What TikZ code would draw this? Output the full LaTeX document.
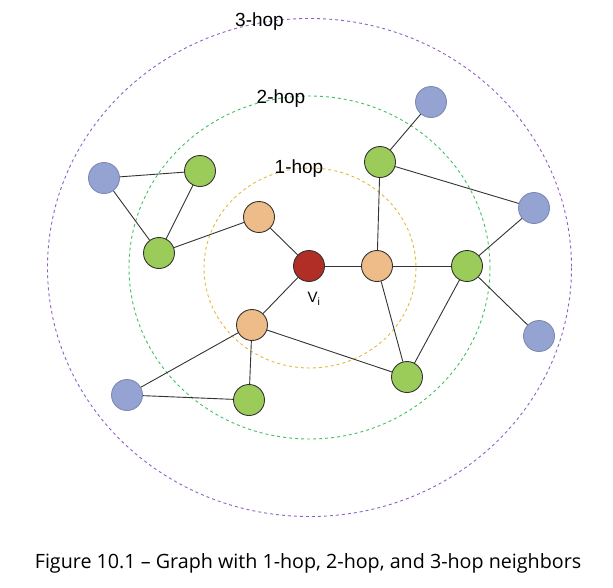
\documentclass[tikz,border=0pt]{standalone}
\usepackage{fontspec}
\setmainfont{Liberation Sans}
\newfontfamily\capfont{Open Sans}
\definecolor{cred}{HTML}{B02E26}
\definecolor{corange}{HTML}{EEBC88}
\definecolor{cgreen}{HTML}{9BCC5A}
\definecolor{cblue}{HTML}{94A3D2}
\definecolor{rpurple}{HTML}{8E62C4}
\definecolor{rgreen}{HTML}{40C060}
\definecolor{ryellow}{HTML}{E2BA3A}
\definecolor{edgec}{HTML}{333333}
\tikzset{
  vtx/.style={circle, draw=edgec, line width=0.9pt, minimum size=31pt, inner sep=0pt},
  redv/.style={vtx, fill=cred},
  orav/.style={vtx, fill=corange},
  grnv/.style={vtx, fill=cgreen},
  bluv/.style={vtx, draw=cblue!85!black, fill=cblue},
  ring/.style={line width=0.9pt, dash pattern=on 3pt off 3pt},
  edge/.style={draw=edgec, line width=0.9pt},
  hoplabel/.style={font=\fontsize{19}{22}\selectfont, inner sep=0pt}
}
\begin{document}
\begin{tikzpicture}[x=1pt,y=-1pt]
\useasboundingbox (0,0) rectangle (613,587);
% rings
\draw[ring, draw=rpurple] (309.5,267.5) ellipse [x radius=262, y radius=249];
\draw[ring, draw=rgreen] (309.5,267.5) ellipse [x radius=180.5, y radius=171.5];
\draw[ring, draw=ryellow] (310,268) ellipse [x radius=106, y radius=100];
% labels
\node[hoplabel] (l3) at (259.5,22) {3-hop};
\node[hoplabel] (l2) at (281,99) {2-hop};
\node[hoplabel] (l1) at (299,169) {1-hop};
% nodes
\node[redv] (vi) at (309,266) {};
\node[orav] (o1) at (259,217) {};
\node[orav] (o2) at (377,266) {};
\node[orav] (o3) at (252,325) {};
\node[grnv] (g1) at (200,171) {};
\node[grnv] (g2) at (159,253) {};
\node[grnv] (g3) at (380,162) {};
\node[grnv] (g4) at (467,266) {};
\node[grnv] (g5) at (407,377) {};
\node[grnv] (g6) at (249,400) {};
\node[bluv] (b1) at (104,178) {};
\node[bluv] (b2) at (431,102) {};
\node[bluv] (b3) at (534,208) {};
\node[bluv] (b4) at (539,336) {};
\node[bluv] (b5) at (127,395) {};
\node[font=\fontsize{15}{17}\selectfont, inner sep=0pt] (vil) at (314,299) {V\textsubscript{i}};
% edges
\draw[edge] (b1) -- (g1);
\draw[edge] (b1) -- (g2);
\draw[edge] (g1) -- (g2);
\draw[edge] (g2) -- (o1);
\draw[edge] (o1) -- (vi);
\draw[edge] (vi) -- (o2);
\draw[edge] (vi) -- (o3);
\draw[edge] (o2) -- (g3);
\draw[edge] (o2) -- (g4);
\draw[edge] (o2) -- (g5);
\draw[edge] (g3) -- (b2);
\draw[edge] (g3) -- (b3);
\draw[edge] (g4) -- (b3);
\draw[edge] (g4) -- (b4);
\draw[edge] (g4) -- (g5);
\draw[edge] (o3) -- (b5);
\draw[edge] (o3) -- (g6);
\draw[edge] (o3) -- (g5);
\draw[edge] (b5) -- (g6);
% caption
\node[font=\capfont\fontsize{19.7}{23}\selectfont, inner sep=0pt] (cap) at (308,563) {Figure 10.1 – Graph with 1-hop, 2-hop, and 3-hop neighbors};
\end{tikzpicture}
\end{document}
